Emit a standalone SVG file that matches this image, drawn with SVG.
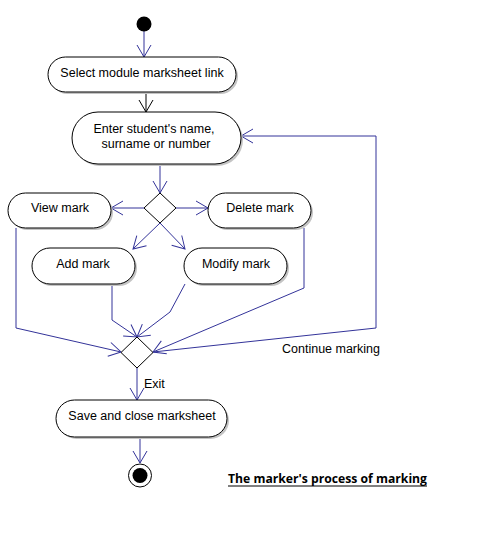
<svg xmlns="http://www.w3.org/2000/svg" width="491" height="539" viewBox="0 0 491 539">
<defs>
<style>
.node rect.sh{fill:#c4c4c4;stroke:none}
.node rect.bd{fill:#fff;stroke:#000;stroke-width:1}
.t{font-family:"Liberation Sans",Arial,sans-serif;font-size:12.5px;fill:#000}
.c{fill:none;stroke:#333399;stroke-width:1}
.dia{fill:#fff;stroke:#000;stroke-width:1}
</style>
<marker id="ab" markerUnits="userSpaceOnUse" markerWidth="30" markerHeight="30" refX="15" refY="15" orient="auto" viewBox="0 0 30 30">
<path d="M3,8 L15,15 L3,22" fill="none" stroke="#333399" stroke-width="1"/>
</marker>
<marker id="ak" markerUnits="userSpaceOnUse" markerWidth="30" markerHeight="30" refX="15" refY="15" orient="auto" viewBox="0 0 30 30">
<path d="M3,8 L15,15 L3,22" fill="none" stroke="#000" stroke-width="1"/>
</marker>
</defs>
<rect width="491" height="539" fill="#fff"/>

<g id="connectors">
<path class="c" d="M144,31 L144,57" marker-end="url(#ab)"/>
<path d="M146,92 L146,112" fill="none" stroke="#000" marker-end="url(#ak)"/>
<path class="c" d="M160,164 L160,193" marker-end="url(#ab)"/>
<path class="c" d="M144,208 L111,208" marker-end="url(#ab)"/>
<path class="c" d="M176,208 L208,208" marker-end="url(#ab)"/>
<path class="c" d="M160,223 L133,249" marker-end="url(#ab)"/>
<path class="c" d="M160,223 L185,249" marker-end="url(#ab)"/>
<path class="c" d="M16,228 L16,328 L121,352" marker-end="url(#ab)"/>
<path class="c" d="M112,284 L112,320 L137,337" marker-end="url(#ab)"/>
<path class="c" d="M185,284 L170,312 L137,337" marker-end="url(#ab)"/>
<path class="c" d="M304,228 L304,288 L153,352" marker-end="url(#ab)"/>
<path class="c" d="M153,352 L376,328 L376,136 L241,136" marker-end="url(#ab)"/>
<path class="c" d="M137,368 L137,400" marker-end="url(#ab)"/>
<path class="c" d="M140,437 L140,463" marker-end="url(#ab)"/>
<text class="t" x="282" y="353">Continue marking</text>
<text class="t" x="144" y="388">Exit</text>
</g>

<g id="start"><circle cx="144" cy="24" r="7.5" fill="#000"/></g>

<g id="select" class="node">
<rect class="sh" x="50" y="59" width="188" height="35" rx="17.5"/>
<rect class="bd" x="48" y="57" width="188" height="35" rx="17.5"/>
<text class="t" x="142" y="77" text-anchor="middle">Select module marksheet link</text>
</g>

<g id="enter" class="node">
<rect class="sh" x="74" y="114" width="169" height="52" rx="26"/>
<rect class="bd" x="72" y="112" width="169" height="52" rx="26"/>
<text class="t" x="154" y="133" text-anchor="middle">Enter student's name,</text>
<text class="t" x="156" y="148" text-anchor="middle">surname or number</text>
</g>

<g id="decision1"><path class="dia" d="M160,193 L176,208 L160,223 L144,208 Z"/></g>

<g id="view" class="node">
<rect class="sh" x="10" y="195" width="103" height="35" rx="17.5"/>
<rect class="bd" x="8" y="193" width="103" height="35" rx="17.5"/>
<text class="t" x="60" y="212" text-anchor="middle">View mark</text>
</g>

<g id="delete" class="node">
<rect class="sh" x="210" y="195" width="103" height="35" rx="17.5"/>
<rect class="bd" x="208" y="193" width="103" height="35" rx="17.5"/>
<text class="t" x="260" y="212" text-anchor="middle">Delete mark</text>
</g>

<g id="add" class="node">
<rect class="sh" x="34" y="250" width="103" height="36" rx="18"/>
<rect class="bd" x="32" y="248" width="103" height="36" rx="18"/>
<text class="t" x="83" y="268" text-anchor="middle">Add mark</text>
</g>

<g id="modify" class="node">
<rect class="sh" x="186" y="250" width="103" height="36" rx="18"/>
<rect class="bd" x="184" y="248" width="103" height="36" rx="18"/>
<text class="t" x="236" y="268" text-anchor="middle">Modify mark</text>
</g>

<g id="merge"><path class="dia" d="M137,337 L153,352.5 L137,368 L121,352.5 Z"/></g>

<g id="save" class="node">
<rect class="sh" x="58" y="402" width="171" height="37" rx="18.5"/>
<rect class="bd" x="56" y="400" width="171" height="37" rx="18.5"/>
<text class="t" x="142" y="420" text-anchor="middle">Save and close marksheet</text>
</g>

<g id="end">
<circle cx="140" cy="475.5" r="11.5" fill="#fff" stroke="#000"/>
<circle cx="140" cy="475.5" r="7.5" fill="#000"/>
</g>

<g id="title">
<text x="228" y="483" font-family="'Open Sans','Noto Sans',sans-serif" font-weight="bold" font-size="12px" textLength="199" lengthAdjust="spacingAndGlyphs" fill="#000">The marker's process of marking</text>
<line x1="228" y1="486" x2="427" y2="486" stroke="#000" stroke-width="1"/>
</g>
</svg>
